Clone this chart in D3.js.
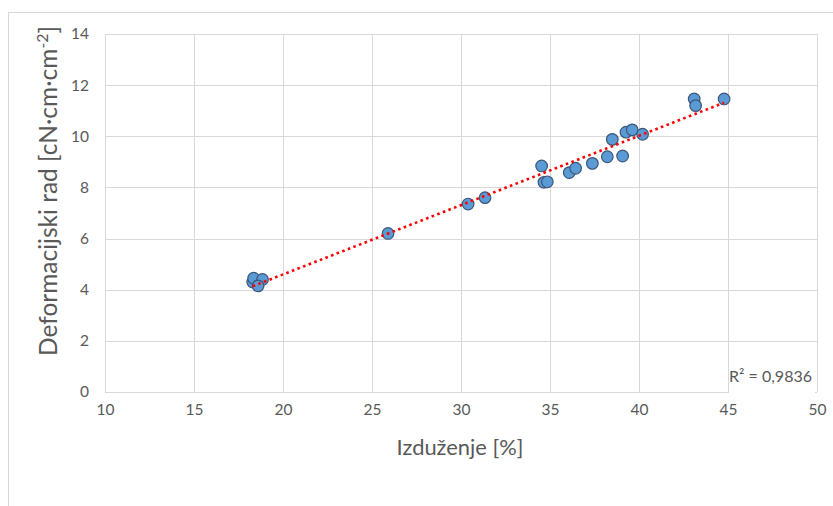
<!DOCTYPE html>
<html><head><meta charset="utf-8">
<script src="https://cdn.jsdelivr.net/npm/d3@7"></script>
<style>
html,body{margin:0;padding:0;background:#fff;}
svg text{font-family:Lato, "Open Sans", sans-serif;fill:#595959;}
</style></head>
<body>
<svg id="c" width="833" height="506"></svg>
<script>
// Data
const elongation = [18.3, 18.35, 18.85, 18.6, 25.9, 30.4, 31.35, 34.53, 34.66, 34.85, 36.08, 36.44, 37.38, 38.22, 39.08, 38.5, 39.27, 39.62, 40.2, 43.1, 43.18, 44.78];
const work       = [4.3, 4.45, 4.4, 4.15, 6.2, 7.35, 7.6, 8.84, 8.2, 8.22, 8.58, 8.75, 8.94, 9.2, 9.23, 9.88, 10.16, 10.25, 10.08, 11.46, 11.2, 11.46];
const xTicks = [10, 15, 20, 25, 30, 35, 40, 45, 50];
const yTicks = [0, 2, 4, 6, 8, 10, 12, 14];
const xTitle = "Izduženje [%]";
const yTitleMain = "Deformacijski rad [cN·cm·cm";
const yTitleSup = "-2";
const yTitleEnd = "]";
const r2Label = "R² = 0,9836";

const svg = d3.select("#c");
const W = 833, H = 506;
const m = {l:105, r:817, t:34, b:392};
const x = d3.scaleLinear().domain([10,50]).range([m.l, m.r]);
const y = d3.scaleLinear().domain([0,14]).range([m.b, m.t]);

function fit(sel, target){
  const w = sel.node().getComputedTextLength();
  const fs = parseFloat(sel.style("font-size"));
  sel.style("font-size", (fs*target/w)+"px");
  return fs*target/w;
}

// outer chart border
svg.append("rect").attr("x",8.5).attr("y",12.5).attr("width",W).attr("height",H)
  .attr("fill","none").attr("stroke","#d9d9d9").attr("stroke-width",1);

// gridlines
const grid = svg.append("g");
grid.selectAll(".hx").data(yTicks).join("line")
  .attr("x1",m.l).attr("x2",m.r)
  .attr("y1",d=>Math.round(y(d))+0.5).attr("y2",d=>Math.round(y(d))+0.5)
  .attr("stroke","#d9d9d9").attr("stroke-width",1);
grid.selectAll(".vx").data(xTicks).join("line")
  .attr("y1",m.t).attr("y2",m.b)
  .attr("x1",d=>Math.round(x(d))+0.5).attr("x2",d=>Math.round(x(d))+0.5)
  .attr("stroke","#d9d9d9").attr("stroke-width",1);

// axes labels via d3 axes
const xAxis = svg.append("g").attr("transform",`translate(0,${m.b})`)
  .call(d3.axisBottom(x).tickValues(xTicks).tickSize(0).tickPadding(12).tickFormat(d3.format("d")));
const yAxis = svg.append("g").attr("transform",`translate(${m.l},0)`)
  .call(d3.axisLeft(y).tickValues(yTicks).tickSize(0).tickPadding(16).tickFormat(d3.format("d")));
[xAxis,yAxis].forEach(a=>{a.select(".domain").remove();
  a.selectAll("text").style("font-size","15.5px").attr("fill","#595959").style("font-family","Lato, 'Open Sans', sans-serif");});

// trendline (least squares)
const n = elongation.length;
const mx = d3.mean(elongation), my = d3.mean(work);
let sxy=0, sxx=0;
for(let i=0;i<n;i++){sxy+=(elongation[i]-mx)*(work[i]-my); sxx+=(elongation[i]-mx)**2;}
const slope = sxy/sxx, intercept = my - slope*mx;
const [x0,x1] = d3.extent(elongation);

// points
svg.append("g").selectAll("circle").data(elongation.map((e,i)=>[e,work[i]])).join("circle")
  .attr("cx",d=>x(d[0])).attr("cy",d=>y(d[1])).attr("r",5.8)
  .attr("fill","#5b9bd5").attr("stroke","#3b5678").attr("stroke-width",1.2);

svg.append("line")
  .attr("x1",x(x0)).attr("y1",y(intercept+slope*x0))
  .attr("x2",x(x1)).attr("y2",y(intercept+slope*x1))
  .attr("stroke","#ff0000").attr("stroke-width",2.6).attr("stroke-dasharray","2.6,3.4");

// R2 label
svg.append("rect").attr("x",729).attr("y",362).attr("width",86).attr("height",32).attr("fill","#fff");
const r2 = svg.append("text").attr("x",812).attr("y",382).attr("text-anchor","end")
  .style("font-size","15px").text(r2Label);
fit(r2, 83);

// axis titles
const xt = svg.append("text").attr("x",460).attr("y",455).attr("text-anchor","middle")
  .style("font-size","19px").text(xTitle);
const fsx = fit(xt,127);
const yt = svg.append("text").attr("transform","translate(57,191) rotate(-90)").attr("text-anchor","middle")
  .style("font-size", fsx+"px");
const t1 = yt.append("tspan").text(yTitleMain);
const t2 = yt.append("tspan").attr("dy",-8).style("font-size",(fsx*0.65)+"px").text(yTitleSup);
const t3 = yt.append("tspan").attr("dy",8).text(yTitleEnd);
const wy = yt.node().getComputedTextLength();
const k = 330/wy;
yt.style("font-size",(fsx*k)+"px");
t2.style("font-size",(fsx*0.65*k)+"px").attr("dy",-8*k);
t3.attr("dy",8*k);
</script>
</body></html>
